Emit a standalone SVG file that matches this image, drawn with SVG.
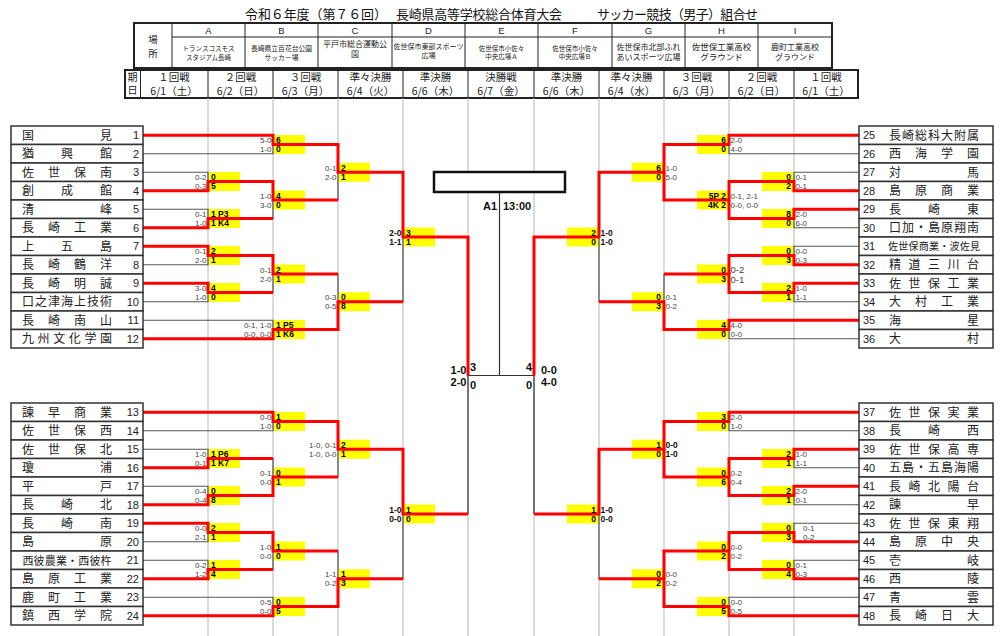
<svg xmlns="http://www.w3.org/2000/svg" xmlns:xlink="http://www.w3.org/1999/xlink" width="1000" height="636" viewBox="0 0 1000 636">
<style>
.nm{font-family:"Noto Sans CJK JP","Noto Sans",sans-serif;font-size:12px;fill:#222;text-anchor:middle}
.no{font-family:"Liberation Sans",Arial,sans-serif;font-size:11px;fill:#222}
.bx{fill:#fff;stroke:#333;stroke-width:1.5}
.y{fill:#ffff00}
.s{font-family:"Liberation Sans",Arial,sans-serif;font-size:8px;fill:#444}
.sb{font-family:"Liberation Sans",Arial,sans-serif;font-size:8.5px;fill:#111;font-weight:bold}
.t{font-family:"Liberation Sans",Arial,sans-serif;font-size:8.5px;fill:#000;font-weight:bold}
.f{font-family:"Liberation Sans",Arial,sans-serif;font-size:11px;fill:#111;font-weight:bold}
.e{text-anchor:end}
.g{fill:none;stroke:#555;stroke-width:1.2}
.r{fill:none;stroke:#ff0000;stroke-width:3;stroke-linejoin:miter}
.grid{stroke:#b8b8b8;stroke-width:1}
.hd{font-family:"Noto Sans CJK JP","Noto Sans",sans-serif;fill:#222;text-anchor:middle}
.tl{stroke:#222;stroke-width:1;fill:none}
.tb{stroke:#222;stroke-width:2;fill:#fff}
</style>
<defs>
<path id="blk" d="M143,135.25H273V153.75H143M143,172.25H208V190.75H143M143,209.25H208V227.75H143M143,246.25H208V264.75H143M143,283.25H208V301.75H143M143,320.25H273V338.75H143M208,181.5H273V218.5H208M208,255.5H273V292.5H208M273,144.5H338V200H273M273,274H338V329.5H273M338,172.25H403V301.75H338M403,237H468"/>
</defs>
<rect width="1000" height="636" fill="#fff"/>

<g id="title" class="hd" style="font-size:13px;text-anchor:start;fill:#111">
<text x="245" y="19" textLength="142">令和６年度（第７６回）</text>
<text x="396" y="19" textLength="166">長崎県高等学校総合体育大会</text>
<text x="597" y="19" textLength="161">サッカー競技（男子）組合せ</text>
</g>

<g id="venues">
<rect class="tb" x="134" y="23" width="698" height="45"/>
<path class="tl" d="M172,23V68M245,23V68M318,23V68M392,23V68M465,23V68M538,23V68M612,23V68M685,23V68M758,23V68M172,37H832"/>
<g class="hd" style="font-size:9.5px"><text x="153" y="43">場</text><text x="153" y="56.5">所</text></g>
<g style="font-family:'Liberation Sans',Arial,sans-serif;font-size:9.5px;fill:#222;text-anchor:middle">
<text x="208.5" y="33.5">A</text><text x="281.5" y="33.5">B</text><text x="355" y="33.5">C</text><text x="428.5" y="33.5">D</text><text x="501.5" y="33.5">E</text><text x="575" y="33.5">F</text><text x="648.5" y="33.5">G</text><text x="721.5" y="33.5">H</text><text x="795" y="33.5">I</text>
</g>
<g class="hd">
<text x="208.5" y="51" style="font-size:6.5px">トランスコスモス</text><text x="208.5" y="59.5" style="font-size:6.5px">スタジアム長崎</text>
<text x="281.5" y="51" style="font-size:6.8px">長崎県立百花台公園</text><text x="281.5" y="59.5" style="font-size:6.8px">サッカー場</text>
<text x="355" y="47" style="font-size:8px">平戸市総合運動公</text><text x="355" y="57" style="font-size:8px">園</text>
<text x="428.5" y="48.5" style="font-size:7px">佐世保市東部スポーツ</text><text x="428.5" y="57.5" style="font-size:7px">広場</text>
<text x="501.5" y="50.5" style="font-size:6.5px">佐世保市小佐々</text><text x="501.5" y="59" style="font-size:6.5px">中央広場Ａ</text>
<text x="575" y="50.5" style="font-size:6.5px">佐世保市小佐々</text><text x="575" y="59" style="font-size:6.5px">中央広場Ｂ</text>
<text x="648.5" y="49.5" style="font-size:8px">佐世保市北部ふれ</text><text x="648.5" y="59.5" style="font-size:8px">あいスポーツ広場</text>
<text x="721.5" y="49.5" style="font-size:8.5px">佐世保工業高校</text><text x="721.5" y="59.5" style="font-size:8.5px">グラウンド</text>
<text x="795" y="50" style="font-size:8px">鹿町工業高校</text><text x="795" y="59.5" style="font-size:8px">グラウンド</text>
</g>
</g>

<g id="days">
<rect class="tb" x="125" y="70" width="733" height="28"/>
<path class="tl" d="M140.5,70V98M208,70V98M273,70V98M338,70V98M403,70V98M468,70V98M534,70V98M599,70V98M664,70V98M729,70V98M794,70V98"/>
<g class="hd" style="font-size:10px"><text x="132.5" y="81">期</text><text x="132.5" y="94">日</text></g>
<g class="hd" style="font-size:10.5px">
<text x="174" y="81">１回戦</text><text x="174" y="94.5">6/1（土）</text>
<text x="240.5" y="81">２回戦</text><text x="240.5" y="94.5">6/2（日）</text>
<text x="305.5" y="81">３回戦</text><text x="305.5" y="94.5">6/3（月）</text>
<text x="370.5" y="81">準々決勝</text><text x="370.5" y="94.5">6/4（火）</text>
<text x="435.5" y="81">準決勝</text><text x="435.5" y="94.5">6/6（木）</text>
<text x="501" y="81">決勝戦</text><text x="501" y="94.5">6/7（金）</text>
<text x="566.5" y="81">準決勝</text><text x="566.5" y="94.5">6/6（木）</text>
<text x="631.5" y="81">準々決勝</text><text x="631.5" y="94.5">6/4（水）</text>
<text x="696.5" y="81">３回戦</text><text x="696.5" y="94.5">6/3（月）</text>
<text x="761.5" y="81">２回戦</text><text x="761.5" y="94.5">6/2（日）</text>
<text x="826" y="81">１回戦</text><text x="826" y="94.5">6/1（土）</text>
</g>
</g>

<g id="grid" class="grid">
<path d="M208,98V636M273,98V636M338,98V636M403,98V636M468,98V636M534,98V636M599,98V636M664,98V636M729,98V636M794,98V636"/>
</g>

<g id="score-boxes" class="y">
<rect x="274" y="135" width="31" height="19"/><rect x="209" y="172" width="31" height="19"/><rect x="209" y="209" width="31" height="19"/><rect x="274" y="190.5" width="31" height="19"/><rect x="339" y="162.75" width="31" height="19"/><rect x="209" y="246" width="31" height="19"/><rect x="209" y="283" width="31" height="19"/><rect x="274" y="264.5" width="31" height="19"/><rect x="274" y="320" width="31" height="19"/><rect x="339" y="292.25" width="31" height="19"/><rect x="404" y="227.5" width="31" height="19"/>
<rect x="274" y="412" width="31" height="19"/><rect x="209" y="449" width="31" height="19"/><rect x="209" y="486" width="31" height="19"/><rect x="274" y="467.5" width="31" height="19"/><rect x="339" y="439.75" width="31" height="19"/><rect x="209" y="523" width="31" height="19"/><rect x="209" y="560" width="31" height="19"/><rect x="274" y="541.5" width="31" height="19"/><rect x="274" y="597" width="31" height="19"/><rect x="339" y="569.25" width="31" height="19"/><rect x="404" y="504.5" width="31" height="19"/>
<rect x="697" y="135" width="31" height="19"/><rect x="762" y="172" width="31" height="19"/><rect x="762" y="209" width="31" height="19"/><rect x="697" y="190.5" width="31" height="19"/><rect x="632" y="162.75" width="31" height="19"/><rect x="762" y="246" width="31" height="19"/><rect x="762" y="283" width="31" height="19"/><rect x="697" y="264.5" width="31" height="19"/><rect x="697" y="320" width="31" height="19"/><rect x="632" y="292.25" width="31" height="19"/><rect x="567" y="227.5" width="31" height="19"/>
<rect x="697" y="412" width="31" height="19"/><rect x="762" y="449" width="31" height="19"/><rect x="762" y="486" width="31" height="19"/><rect x="697" y="467.5" width="31" height="19"/><rect x="632" y="439.75" width="31" height="19"/><rect x="762" y="523" width="31" height="19"/><rect x="762" y="560" width="31" height="19"/><rect x="697" y="541.5" width="31" height="19"/><rect x="697" y="597" width="31" height="19"/><rect x="632" y="569.25" width="31" height="19"/><rect x="567" y="504.5" width="31" height="19"/>
</g>

<g id="connectors">
<use href="#blk" xlink:href="#blk" class="g"/>
<use href="#blk" xlink:href="#blk" class="g" transform="translate(0,277)"/>
<use href="#blk" xlink:href="#blk" class="g" transform="matrix(-1 0 0 1 1002 0)"/>
<use href="#blk" xlink:href="#blk" class="g" transform="matrix(-1 0 0 1 1002 277)"/>
<path class="g" d="M468,237V514M534,237V514M468,375.5H534M499.5,192V375.5" style="stroke:#333"/>
<polyline class="r" points="143,135.25 273,135.25 273,144.5 338,144.5 338,172.25 403,172.25 403,237 468,237 468,375.5"/>
<polyline class="r" points="143,190.75 208,190.75 208,181.5 273,181.5 273,200 338,200"/>
<polyline class="r" points="143,227.75 208,227.75 208,218.5 273,218.5"/>
<polyline class="r" points="143,246.25 208,246.25 208,255.5 273,255.5 273,274 338,274"/>
<polyline class="r" points="143,283.25 208,283.25 208,292.5 273,292.5"/>
<polyline class="r" points="143,338.75 273,338.75 273,329.5 338,329.5 338,301.75 403,301.75"/>
<polyline class="r" points="143,412.25 273,412.25 273,421.5 338,421.5 338,449.25 403,449.25 403,514 468,514"/>
<polyline class="r" points="143,467.75 208,467.75 208,458.5 273,458.5"/>
<polyline class="r" points="143,504.75 208,504.75 208,495.5 273,495.5 273,477 338,477"/>
<polyline class="r" points="143,523.25 208,523.25 208,532.5 273,532.5 273,551 338,551"/>
<polyline class="r" points="143,578.75 208,578.75 208,569.5 273,569.5"/>
<polyline class="r" points="143,615.75 273,615.75 273,606.5 338,606.5 338,578.75 403,578.75"/>
<polyline class="r" points="859,135.25 729,135.25 729,144.5 664,144.5 664,172.25 599,172.25 599,237 534,237 534,375.5"/>
<polyline class="r" points="859,190.75 794,190.75 794,181.5 729,181.5 729,200 664,200 664,172.25"/>
<polyline class="r" points="859,209.25 794,209.25 794,218.5 729,218.5 729,200"/>
<polyline class="r" points="859,264.75 794,264.75 794,255.5 729,255.5 729,274"/>
<polyline class="r" points="859,283.25 794,283.25 794,292.5 729,292.5 729,274 664,274"/>
<polyline class="r" points="859,320.25 729,320.25 729,329.5 664,329.5 664,301.75 599,301.75"/>
<polyline class="r" points="859,412.25 729,412.25 729,421.5 664,421.5 664,449.25 599,449.25 599,514 534,514"/>
<polyline class="r" points="859,449.25 794,449.25 794,458.5 729,458.5 729,477"/>
<polyline class="r" points="859,486.25 794,486.25 794,495.5 729,495.5 729,477 664,477 664,449.25"/>
<polyline class="r" points="859,541.75 794,541.75 794,532.5 729,532.5 729,551"/>
<polyline class="r" points="859,578.75 794,578.75 794,569.5 729,569.5 729,551 664,551 664,578.75"/>
<polyline class="r" points="859,615.75 729,615.75 729,606.5 664,606.5 664,578.75 599,578.75"/>
</g>

<g id="scores">
<g class="s e">
<text x="271.5" y="143">5-0</text><text x="271.5" y="152">1-0</text>
<text x="206.5" y="180">0-2</text><text x="206.5" y="189">0-3</text>
<text x="206.5" y="217">0-1</text><text x="206.5" y="226">1-0</text>
<text x="271.5" y="198.5">1-0</text><text x="271.5" y="207.5">3-0</text>
<text x="336.5" y="170.75">0-1</text><text x="336.5" y="179.75">2-0</text>
<text x="206.5" y="254">0-1</text><text x="206.5" y="263">2-0</text>
<text x="206.5" y="291">3-0</text><text x="206.5" y="300">1-0</text>
<text x="271.5" y="272.5">0-1</text><text x="271.5" y="281.5">2-0</text>
<text x="271.5" y="328">0-1, 1-0</text><text x="271.5" y="337">0-0, 0-0</text>
<text x="336.5" y="300.25">0-3</text><text x="336.5" y="309.25">0-5</text>
<text x="271.5" y="420">0-0</text><text x="271.5" y="429">1-0</text>
<text x="206.5" y="457">1-0</text><text x="206.5" y="466">0-1</text>
<text x="206.5" y="494">0-4</text><text x="206.5" y="503">0-4</text>
<text x="271.5" y="475.5">0-1</text><text x="271.5" y="484.5">0-0</text>
<text x="336.5" y="447.75">1-0, 0-1</text><text x="336.5" y="456.75">1-0, 0-0</text>
<text x="206.5" y="531">0-0</text><text x="206.5" y="540">2-1</text>
<text x="206.5" y="568">0-2</text><text x="206.5" y="577">1-2</text>
<text x="271.5" y="549.5">1-0</text><text x="271.5" y="558.5">0-0</text>
<text x="271.5" y="605">0-5</text><text x="271.5" y="614">0-0</text>
<text x="336.5" y="577.25">1-1</text><text x="336.5" y="586.25">0-2</text>
</g>
<g class="sb e">
<text x="401.5" y="235.5">2-0</text><text x="401.5" y="244.5">1-1</text>
<text x="401.5" y="512.5">1-0</text><text x="401.5" y="521.5">0-0</text>
</g>
<g class="t">
<text x="276" y="143">6</text><text x="276" y="152">0</text>
<text x="211" y="180">0</text><text x="211" y="189">5</text>
<text x="211" y="217">1  P3</text><text x="211" y="226">1  K4</text>
<text x="276" y="198.5">4</text><text x="276" y="207.5">0</text>
<text x="341" y="170.75">2</text><text x="341" y="179.75">1</text>
<text x="211" y="254">2</text><text x="211" y="263">1</text>
<text x="211" y="291">4</text><text x="211" y="300">0</text>
<text x="276" y="272.5">2</text><text x="276" y="281.5">1</text>
<text x="276" y="328">1  P5</text><text x="276" y="337">1  K6</text>
<text x="341" y="300.25">0</text><text x="341" y="309.25">8</text>
<text x="406" y="235.5">3</text><text x="406" y="244.5">1</text>
<text x="276" y="420">1</text><text x="276" y="429">0</text>
<text x="211" y="457">1  P6</text><text x="211" y="466">1  K7</text>
<text x="211" y="494">0</text><text x="211" y="503">8</text>
<text x="276" y="475.5">0</text><text x="276" y="484.5">1</text>
<text x="341" y="447.75">2</text><text x="341" y="456.75">1</text>
<text x="211" y="531">2</text><text x="211" y="540">1</text>
<text x="211" y="568">1</text><text x="211" y="577">4</text>
<text x="276" y="549.5">1</text><text x="276" y="558.5">0</text>
<text x="276" y="605">0</text><text x="276" y="614">5</text>
<text x="341" y="577.25">1</text><text x="341" y="586.25">3</text>
<text x="406" y="512.5">1</text><text x="406" y="521.5">0</text>
</g>
<g class="s">
<text x="730.5" y="143">2-0</text><text x="730.5" y="152">4-0</text>
<text x="795.5" y="180">0-1</text><text x="795.5" y="189">0-1</text>
<text x="795.5" y="217">2-0</text><text x="795.5" y="226">6-0</text>
<text x="730.5" y="198.5">0-1, 2-1</text><text x="730.5" y="207.5">0-0, 0-0</text>
<text x="665.5" y="170.75">1-0</text><text x="665.5" y="179.75">5-0</text>
<text x="795.5" y="254">0-0</text><text x="795.5" y="263">0-3</text>
<text x="795.5" y="291">1-0</text><text x="795.5" y="300">1-1</text>
<text x="730.5" y="273" style="font-size:9.5px">0-2</text><text x="730.5" y="283" style="font-size:9.5px">0-1</text>
<text x="730.5" y="328">4-0</text><text x="730.5" y="337">0-0</text>
<text x="665.5" y="300.25">0-1</text><text x="665.5" y="309.25">0-2</text>
<text x="730.5" y="420">2-0</text><text x="730.5" y="429">1-0</text>
<text x="795.5" y="457">1-0</text><text x="795.5" y="466">1-1</text>
<text x="795.5" y="494">2-0</text><text x="795.5" y="503">0-1</text>
<text x="730.5" y="475.5">0-2</text><text x="730.5" y="484.5">0-4</text>
<text x="803" y="531">0-1</text><text x="803" y="540">0-2</text>
<text x="795.5" y="568">0-1</text><text x="795.5" y="577">0-3</text>
<text x="730.5" y="549.5">0-0</text><text x="730.5" y="558.5">0-2</text>
<text x="730.5" y="605">0-0</text><text x="730.5" y="614">0-5</text>
<text x="665.5" y="577.25">0-0</text><text x="665.5" y="586.25">0-2</text>
</g>
<g class="sb">
<text x="600.5" y="235.5">1-0</text><text x="600.5" y="244.5">1-0</text>
<text x="665.5" y="447.75">0-0</text><text x="665.5" y="456.75">1-0</text>
<text x="600.5" y="512.5">1-0</text><text x="600.5" y="521.5">0-0</text>
</g>
<g class="t e">
<text x="726" y="143">6</text><text x="726" y="152">0</text>
<text x="791" y="180">0</text><text x="791" y="189">2</text>
<text x="791" y="217">8</text><text x="791" y="226">0</text>
<text x="726" y="198.5">5P  2</text><text x="726" y="207.5">4K  2</text>
<text x="661" y="170.75">6</text><text x="661" y="179.75">0</text>
<text x="791" y="254">0</text><text x="791" y="263">3</text>
<text x="791" y="291">2</text><text x="791" y="300">1</text>
<text x="726" y="272.5">0</text><text x="726" y="281.5">3</text>
<text x="726" y="328">4</text><text x="726" y="337">0</text>
<text x="661" y="300.25">0</text><text x="661" y="309.25">3</text>
<text x="596" y="235.5">2</text><text x="596" y="244.5">0</text>
<text x="726" y="420">3</text><text x="726" y="429">0</text>
<text x="791" y="457">2</text><text x="791" y="466">1</text>
<text x="791" y="494">2</text><text x="791" y="503">1</text>
<text x="726" y="475.5">0</text><text x="726" y="484.5">6</text>
<text x="661" y="447.75">1</text><text x="661" y="456.75">0</text>
<text x="791" y="531">0</text><text x="791" y="540">3</text>
<text x="791" y="568">0</text><text x="791" y="577">4</text>
<text x="726" y="549.5">0</text><text x="726" y="558.5">2</text>
<text x="726" y="605">0</text><text x="726" y="614">5</text>
<text x="661" y="577.25">0</text><text x="661" y="586.25">2</text>
<text x="596" y="512.5">1</text><text x="596" y="521.5">0</text>
</g>
<g class="f">
<text x="466.5" y="374" text-anchor="end">1-0</text><text x="466.5" y="385.5" text-anchor="end">2-0</text>
<text x="470" y="371">3</text><text x="470" y="389">0</text>
<text x="532" y="371" text-anchor="end">4</text><text x="532" y="389" text-anchor="end">0</text>
<text x="541" y="374">0-0</text><text x="541" y="385.5">4-0</text>
</g>
</g>

<g id="final">
<rect x="434" y="172" width="131" height="20" fill="#fff" stroke="#111" stroke-width="2.5"/>
<text class="f" x="497" y="210" text-anchor="end">A1</text>
<text class="f" x="503" y="210">13:00</text>
</g>

<g id="teams-left">
<g id="team-1"><rect class="bx" x="11" y="126" width="132" height="18.5"/><text class="nm" x="28 106" y="139.5">国見</text><text class="no e" x="139" y="139.25">1</text></g>
<g id="team-2"><rect class="bx" x="11" y="144.5" width="132" height="18.5"/><text class="nm" x="28 67 106" y="158">猶興館</text><text class="no e" x="139" y="157.75">2</text></g>
<g id="team-3"><rect class="bx" x="11" y="163" width="132" height="18.5"/><text class="nm" x="28 54 80 106" y="176.5">佐世保南</text><text class="no e" x="139" y="176.25">3</text></g>
<g id="team-4"><rect class="bx" x="11" y="181.5" width="132" height="18.5"/><text class="nm" x="28 67 106" y="195">創成館</text><text class="no e" x="139" y="194.75">4</text></g>
<g id="team-5"><rect class="bx" x="11" y="200" width="132" height="18.5"/><text class="nm" x="28 106" y="213.5">清峰</text><text class="no e" x="139" y="213.25">5</text></g>
<g id="team-6"><rect class="bx" x="11" y="218.5" width="132" height="18.5"/><text class="nm" x="28 54 80 106" y="232">長崎工業</text><text class="no e" x="139" y="231.75">6</text></g>
<g id="team-7"><rect class="bx" x="11" y="237" width="132" height="18.5"/><text class="nm" x="28 67 106" y="250.5">上五島</text><text class="no e" x="139" y="250.25">7</text></g>
<g id="team-8"><rect class="bx" x="11" y="255.5" width="132" height="18.5"/><text class="nm" x="28 54 80 106" y="269">長崎鶴洋</text><text class="no e" x="139" y="268.75">8</text></g>
<g id="team-9"><rect class="bx" x="11" y="274" width="132" height="18.5"/><text class="nm" x="28 54 80 106" y="287.5">長崎明誠</text><text class="no e" x="139" y="287.25">9</text></g>
<g id="team-10"><rect class="bx" x="11" y="292.5" width="132" height="18.5"/><text class="nm" x="28 41 54 67 80 93 106" y="306">口之津海上技術</text><text class="no e" x="139" y="305.75">10</text></g>
<g id="team-11"><rect class="bx" x="11" y="311" width="132" height="18.5"/><text class="nm" x="28 54 80 106" y="324.5">長崎南山</text><text class="no e" x="139" y="324.25">11</text></g>
<g id="team-12"><rect class="bx" x="11" y="329.5" width="132" height="18.5"/><text class="nm" x="28 43.6 59.2 74.8 90.4 106" y="343">九州文化学園</text><text class="no e" x="139" y="342.75">12</text></g>
<g id="team-13"><rect class="bx" x="11" y="403" width="132" height="18.5"/><text class="nm" x="28 54 80 106" y="416.5">諫早商業</text><text class="no e" x="139" y="416.25">13</text></g>
<g id="team-14"><rect class="bx" x="11" y="421.5" width="132" height="18.5"/><text class="nm" x="28 54 80 106" y="435">佐世保西</text><text class="no e" x="139" y="434.75">14</text></g>
<g id="team-15"><rect class="bx" x="11" y="440" width="132" height="18.5"/><text class="nm" x="28 54 80 106" y="453.5">佐世保北</text><text class="no e" x="139" y="453.25">15</text></g>
<g id="team-16"><rect class="bx" x="11" y="458.5" width="132" height="18.5"/><text class="nm" x="28 106" y="472">瓊浦</text><text class="no e" x="139" y="471.75">16</text></g>
<g id="team-17"><rect class="bx" x="11" y="477" width="132" height="18.5"/><text class="nm" x="28 106" y="490.5">平戸</text><text class="no e" x="139" y="490.25">17</text></g>
<g id="team-18"><rect class="bx" x="11" y="495.5" width="132" height="18.5"/><text class="nm" x="28 67 106" y="509">長崎北</text><text class="no e" x="139" y="508.75">18</text></g>
<g id="team-19"><rect class="bx" x="11" y="514" width="132" height="18.5"/><text class="nm" x="28 67 106" y="527.5">長崎南</text><text class="no e" x="139" y="527.25">19</text></g>
<g id="team-20"><rect class="bx" x="11" y="532.5" width="132" height="18.5"/><text class="nm" x="28 106" y="546">島原</text><text class="no e" x="139" y="545.75">20</text></g>
<g id="team-21"><rect class="bx" x="11" y="551" width="132" height="18.5"/><text class="nm" x="28 39.1 50.3 61.4 72.6 83.7 94.9 106" y="564.5" style="font-size:11px">西彼農業・西彼杵</text><text class="no e" x="139" y="564.25">21</text></g>
<g id="team-22"><rect class="bx" x="11" y="569.5" width="132" height="18.5"/><text class="nm" x="28 54 80 106" y="583">島原工業</text><text class="no e" x="139" y="582.75">22</text></g>
<g id="team-23"><rect class="bx" x="11" y="588" width="132" height="18.5"/><text class="nm" x="28 54 80 106" y="601.5">鹿町工業</text><text class="no e" x="139" y="601.25">23</text></g>
<g id="team-24"><rect class="bx" x="11" y="606.5" width="132" height="18.5"/><text class="nm" x="28 54 80 106" y="620">鎮西学院</text><text class="no e" x="139" y="619.75">24</text></g>
</g>

<g id="teams-right">
<g id="team-25"><rect class="bx" x="859" y="126" width="134" height="18.5"/><text class="no" x="863" y="139.25">25</text><text class="nm" x="895 908 921 934 947 960 973" y="139.5">長崎総科大附属</text></g>
<g id="team-26"><rect class="bx" x="859" y="144.5" width="134" height="18.5"/><text class="no" x="863" y="157.75">26</text><text class="nm" x="895 921 947 973" y="158">西海学園</text></g>
<g id="team-27"><rect class="bx" x="859" y="163" width="134" height="18.5"/><text class="no" x="863" y="176.25">27</text><text class="nm" x="895 973" y="176.5">対馬</text></g>
<g id="team-28"><rect class="bx" x="859" y="181.5" width="134" height="18.5"/><text class="no" x="863" y="194.75">28</text><text class="nm" x="895 921 947 973" y="195">島原商業</text></g>
<g id="team-29"><rect class="bx" x="859" y="200" width="134" height="18.5"/><text class="no" x="863" y="213.25">29</text><text class="nm" x="895 934 973" y="213.5">長崎東</text></g>
<g id="team-30"><rect class="bx" x="859" y="218.5" width="134" height="18.5"/><text class="no" x="863" y="231.75">30</text><text class="nm" x="895 908 921 934 947 960 973" y="232">口加・島原翔南</text></g>
<g id="team-31"><rect class="bx" x="859" y="237" width="134" height="18.5"/><text class="no" x="863" y="250.25">31</text><text class="nm" x="893 903.25 913.5 923.75 934 944.25 954.5 964.75 975" y="249.8" style="font-size:10px">佐世保商業・波佐見</text></g>
<g id="team-32"><rect class="bx" x="859" y="255.5" width="134" height="18.5"/><text class="no" x="863" y="268.75">32</text><text class="nm" x="895 914.5 934 953.5 973" y="269">精道三川台</text></g>
<g id="team-33"><rect class="bx" x="859" y="274" width="134" height="18.5"/><text class="no" x="863" y="287.25">33</text><text class="nm" x="895 914.5 934 953.5 973" y="287.5">佐世保工業</text></g>
<g id="team-34"><rect class="bx" x="859" y="292.5" width="134" height="18.5"/><text class="no" x="863" y="305.75">34</text><text class="nm" x="895 921 947 973" y="306">大村工業</text></g>
<g id="team-35"><rect class="bx" x="859" y="311" width="134" height="18.5"/><text class="no" x="863" y="324.25">35</text><text class="nm" x="895 973" y="324.5">海星</text></g>
<g id="team-36"><rect class="bx" x="859" y="329.5" width="134" height="18.5"/><text class="no" x="863" y="342.75">36</text><text class="nm" x="895 973" y="343">大村</text></g>
<g id="team-37"><rect class="bx" x="859" y="403" width="134" height="18.5"/><text class="no" x="863" y="416.25">37</text><text class="nm" x="895 914.5 934 953.5 973" y="416.5">佐世保実業</text></g>
<g id="team-38"><rect class="bx" x="859" y="421.5" width="134" height="18.5"/><text class="no" x="863" y="434.75">38</text><text class="nm" x="895 934 973" y="435">長崎西</text></g>
<g id="team-39"><rect class="bx" x="859" y="440" width="134" height="18.5"/><text class="no" x="863" y="453.25">39</text><text class="nm" x="895 914.5 934 953.5 973" y="453.5">佐世保高専</text></g>
<g id="team-40"><rect class="bx" x="859" y="458.5" width="134" height="18.5"/><text class="no" x="863" y="471.75">40</text><text class="nm" x="895 908 921 934 947 960 973" y="472">五島・五島海陽</text></g>
<g id="team-41"><rect class="bx" x="859" y="477" width="134" height="18.5"/><text class="no" x="863" y="490.25">41</text><text class="nm" x="895 914.5 934 953.5 973" y="490.5">長崎北陽台</text></g>
<g id="team-42"><rect class="bx" x="859" y="495.5" width="134" height="18.5"/><text class="no" x="863" y="508.75">42</text><text class="nm" x="895 973" y="509">諫早</text></g>
<g id="team-43"><rect class="bx" x="859" y="514" width="134" height="18.5"/><text class="no" x="863" y="527.25">43</text><text class="nm" x="895 914.5 934 953.5 973" y="527.5">佐世保東翔</text></g>
<g id="team-44"><rect class="bx" x="859" y="532.5" width="134" height="18.5"/><text class="no" x="863" y="545.75">44</text><text class="nm" x="895 921 947 973" y="546">島原中央</text></g>
<g id="team-45"><rect class="bx" x="859" y="551" width="134" height="18.5"/><text class="no" x="863" y="564.25">45</text><text class="nm" x="895 973" y="564.5">壱岐</text></g>
<g id="team-46"><rect class="bx" x="859" y="569.5" width="134" height="18.5"/><text class="no" x="863" y="582.75">46</text><text class="nm" x="895 973" y="583">西陵</text></g>
<g id="team-47"><rect class="bx" x="859" y="588" width="134" height="18.5"/><text class="no" x="863" y="601.25">47</text><text class="nm" x="895 973" y="601.5">青雲</text></g>
<g id="team-48"><rect class="bx" x="859" y="606.5" width="134" height="18.5"/><text class="no" x="863" y="619.75">48</text><text class="nm" x="895 921 947 973" y="620">長崎日大</text></g>
</g>
</svg>
